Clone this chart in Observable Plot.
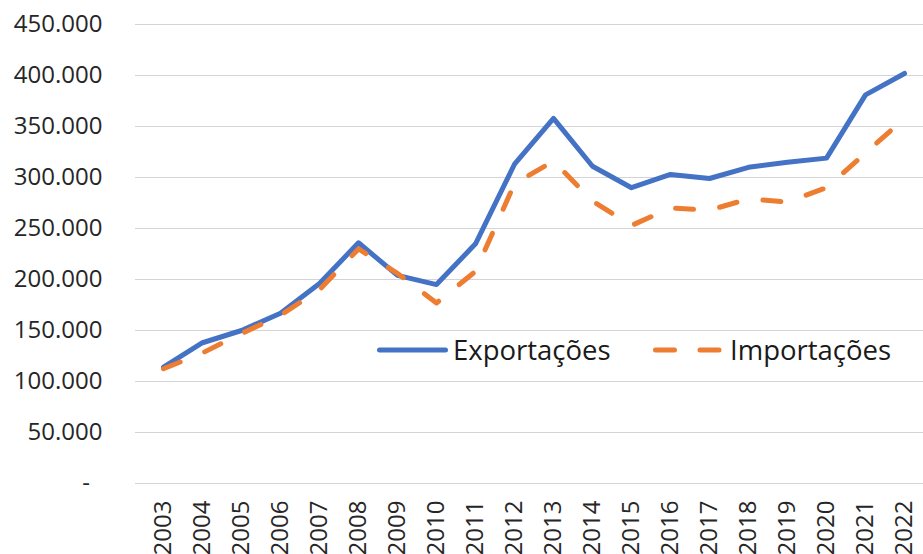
<!DOCTYPE html>
<html><head><meta charset="utf-8">
<script src="https://cdn.jsdelivr.net/npm/d3@7"></script>
<script src="https://cdn.jsdelivr.net/npm/@observablehq/plot@0.6"></script>
<style>
body{margin:0;background:#fff;}
#wrap{position:relative;width:923px;height:554px;overflow:hidden;font-family:"Open Sans",sans-serif;background:#fff;}
#legend{position:absolute;left:0;top:0;}
</style></head><body><div id="wrap"></div>
<script>
const years = [2003,2004,2005,2006,2007,2008,2009,2010,2011,2012,2013,2014,2015,2016,2017,2018,2019,2020,2021,2022];
const exportacoes = [114000,138000,150000,167000,196000,236000,204000,195000,235000,313000,358000,311000,290000,303000,299000,310000,315000,319000,381000,402000];
const importacoes = [112500,128000,147000,165000,190000,230000,206000,177000,208000,294000,316000,277000,253000,270000,268000,279000,276000,290000,324000,358000];
const yTicks = [0,50000,100000,150000,200000,250000,300000,350000,400000,450000];
const seriesNames = ["Exportações","Importações"];
const colors = ["#4472C4","#ED7D31"];

const fmt = d => d === 0 ? "-\u00a0\u00a0" : d3.format(",")(d).replace(/,/g, ".");

const expData = years.map((y,i) => ({year:y, value:exportacoes[i]}));
const impData = years.map((y,i) => ({year:y, value:importacoes[i]}));

const chart = Plot.plot({
  width: 923,
  height: 554,
  marginLeft: 135,
  marginRight: 0,
  marginTop: 24,
  marginBottom: 71,
  style: {fontFamily: '"Open Sans", sans-serif', fontSize: "24px", color: "#262626", background: "#fff", overflow: "visible"},
  x: {type: "point", domain: years, range: [155, 912], padding: 0},
  y: {domain: [0, 450000]},
  marks: [
    Plot.gridY(yTicks, {stroke: "#d4d4d4", strokeOpacity: 1, strokeWidth: 1.2}),
    Plot.axisY(yTicks, {tickSize: 0, tickPadding: 33, tickFormat: fmt, label: null, fontSize: 24}),
    Plot.axisX(years, {tickSize: 0, tickPadding: 17, tickRotate: -90, tickFormat: d => String(d), label: null, fontSize: 24}),
    Plot.lineY(expData, {x: "year", y: "value", stroke: colors[0], strokeWidth: 5, strokeLinecap: "round", strokeLinejoin: "round"}),
    Plot.lineY(impData, {x: "year", y: "value", stroke: colors[1], strokeWidth: 5, strokeLinecap: "round", strokeLinejoin: "round", strokeDasharray: "18 26.5"})
  ]
});
const wrap = document.getElementById("wrap");
wrap.appendChild(chart);

// legend overlay
const ns = "http://www.w3.org/2000/svg";
const lg = document.createElementNS(ns, "svg");
lg.setAttribute("id", "legend");
lg.setAttribute("width", 923);
lg.setAttribute("height", 554);
const items = [
  {x1: 379.5, x2: 445.5, tx: 453, dash: null},
  {x1: 655.5, x2: 719.5, tx: 730, dash: "19 25.5"}
];
items.forEach((it, i) => {
  const l = document.createElementNS(ns, "line");
  l.setAttribute("x1", it.x1); l.setAttribute("x2", it.x2);
  l.setAttribute("y1", 350); l.setAttribute("y2", 350);
  l.setAttribute("stroke", colors[i]); l.setAttribute("stroke-width", 5);
  l.setAttribute("stroke-linecap", "round");
  if (it.dash) l.setAttribute("stroke-dasharray", it.dash);
  lg.appendChild(l);
  const t = document.createElementNS(ns, "text");
  t.setAttribute("x", it.tx); t.setAttribute("y", 360);
  t.setAttribute("font-size", 27.5);
  t.setAttribute("font-family", '"Open Sans", sans-serif');
  t.setAttribute("fill", "#1a1a1a");
  t.textContent = seriesNames[i];
  lg.appendChild(t);
});
wrap.appendChild(lg);
</script>
</body></html>
